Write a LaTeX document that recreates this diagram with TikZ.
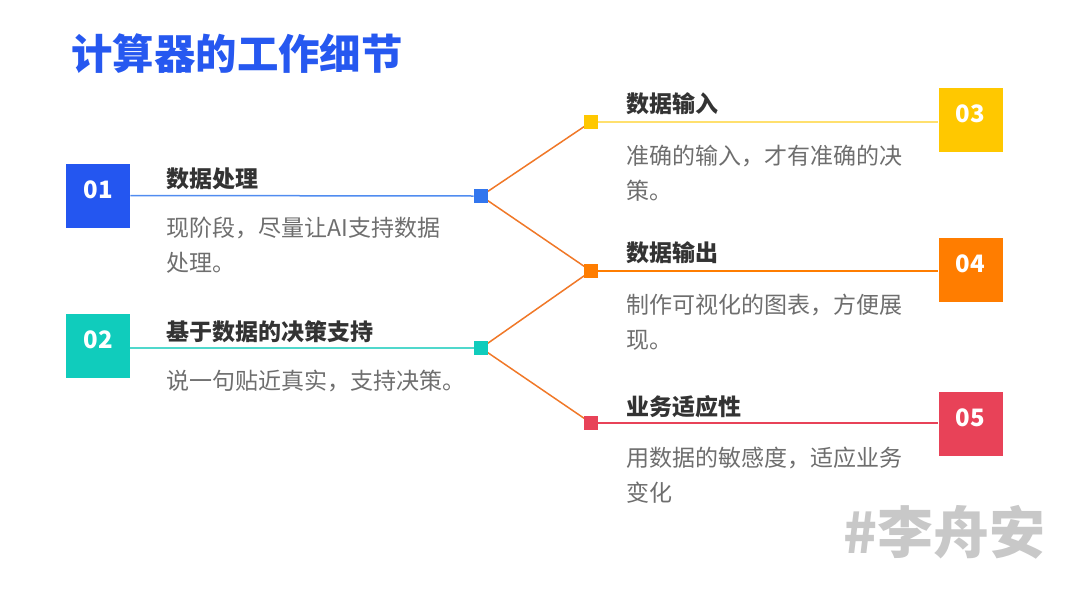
\documentclass[tikz,border=0pt]{standalone}
\usepackage{fontspec}
\setmainfont{Noto Sans CJK SC}
\definecolor{titleblue}{RGB}{38,88,240}
\definecolor{boxblue}{RGB}{36,86,240}
\definecolor{dotblue}{RGB}{50,118,238}
\definecolor{lineblue}{RGB}{80,140,240}
\definecolor{boxteal}{RGB}{16,204,188}
\definecolor{lineteal}{RGB}{80,216,204}
\definecolor{boxyellow}{RGB}{255,200,0}
\definecolor{lineyellow}{RGB}{255,224,110}
\definecolor{boxorange}{RGB}{255,125,0}
\definecolor{boxred}{RGB}{232,66,88}
\definecolor{branchorange}{RGB}{240,120,40}
\definecolor{headgray}{RGB}{51,51,51}
\definecolor{bodygray}{RGB}{110,110,110}
\definecolor{markgray}{RGB}{200,200,200}
\usetikzlibrary{backgrounds}

\begin{document}
\begin{tikzpicture}[x=0.5pt, y=-0.5pt,
    numbox/.style={minimum size=32pt, inner sep=0pt, text height=9.5pt, text depth=7pt, text=white, font=\fontsize{12}{14}\selectfont\bfseries},
    dot/.style={minimum size=7pt, inner sep=0pt},
    headline/.style={anchor=base west, inner sep=0pt, text=headgray, font=\fontsize{11.5}{14}\selectfont\bfseries},
    bodytext/.style={anchor=base west, inner sep=0pt, align=left, text=bodygray, font=\fontsize{11.5}{17.5}\selectfont},
    branch/.style={draw=branchorange, line width=0.75pt}]
    \useasboundingbox (0,0) rectangle (1080,605);
    % title
    \node[anchor=base west, inner sep=0pt, text=titleblue, font=\fontsize{20.7}{25}\selectfont\bfseries] (title) at (71,69) {计算器的工作细节};
    % left column
    \node[numbox, fill=boxblue] (box1) at (98,195.5) {01};
    \node[dot, fill=dotblue] (dot1) at (481,196) {};
    \node[headline] (head1) at (166,187) {数据处理};
    \node[bodytext] (text1) at (166,271) {现阶段，尽量让AI支持数据\\处理。};
    \node[numbox, fill=boxteal] (box2) at (98,346) {02};
    \node[dot, fill=boxteal] (dot2) at (481,348) {};
    \node[headline] (head2) at (166,340) {基于数据的决策支持};
    \node[bodytext] (text2) at (166,389) {说一句贴近真实，支持决策。};
    % right column
    \node[numbox, fill=boxyellow] (box3) at (970.5,120) {03};
    \node[dot, fill=boxyellow] (dot3) at (591,122) {};
    \node[headline] (head3) at (626,112) {数据输入};
    \node[bodytext] (text3) at (626,199) {准确的输入，才有准确的决\\策。};
    \node[numbox, fill=boxorange] (box4) at (970.5,270) {04};
    \node[dot, fill=boxorange] (dot4) at (591,271) {};
    \node[headline] (head4) at (626,261) {数据输出};
    \node[bodytext] (text4) at (626,348) {制作可视化的图表，方便展\\现。};
    \node[numbox, fill=boxred] (box5) at (970.5,424) {05};
    \node[dot, fill=boxred] (dot5) at (591,423) {};
    \node[headline] (head5) at (626,415) {业务适应性};
    \node[bodytext] (text5) at (626,501) {用数据的敏感度，适应业务\\变化};
    % watermark
    \node[anchor=base east, inner sep=0pt, text=markgray, font=\fontsize{28}{32}\selectfont\bfseries] (mark) at (1046,553) {\#李舟安};
    \begin{scope}[on background layer]
      \draw[lineblue, line width=0.75pt] (box1.east) -- (dot1.west);
      \draw[lineteal, line width=0.75pt] (box2.east |- dot2) -- (dot2.west);
      \draw[lineyellow, line width=0.75pt] (dot3.east) -- (box3.west |- dot3);
      \draw[boxorange, line width=0.75pt] (dot4.east) -- (box4.west |- dot4);
      \draw[boxred, line width=0.75pt] (dot5.east) -- (box5.west |- dot5);
      \draw[branch] (dot1.center) -- (dot3.center);
      \draw[branch] (dot1.center) -- (dot4.center);
      \draw[branch] (dot2.center) -- (dot4.center);
      \draw[branch] (dot2.center) -- (dot5.center);
    \end{scope}
\end{tikzpicture}
\end{document}
